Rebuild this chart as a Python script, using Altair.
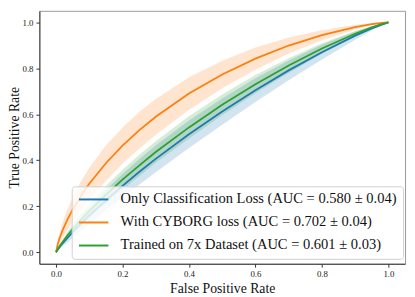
import altair as alt
import pandas as pd

fpr = [0, 0.005, 0.01, 0.02, 0.035, 0.05, 0.075, 0.1, 0.15, 0.2, 0.25, 0.3,
       0.4, 0.5, 0.6, 0.7, 0.8, 0.9, 0.95, 0.98, 1.0]

blue_tpr = [0, 0.011, 0.021, 0.039, 0.063, 0.087, 0.124, 0.160, 0.226, 0.289, 0.349,
            0.406, 0.513, 0.612, 0.705, 0.791, 0.870, 0.942, 0.973, 0.990, 1.0]
blue_std = [0, 0.004, 0.0075, 0.0125, 0.019, 0.024, 0.031, 0.036, 0.045, 0.051, 0.055,
            0.058, 0.060, 0.057, 0.052, 0.043, 0.032, 0.018, 0.009, 0.004, 0]

orange_tpr = [0, 0.034, 0.058, 0.096, 0.144, 0.185, 0.245, 0.298, 0.387, 0.464, 0.530,
              0.589, 0.690, 0.773, 0.842, 0.899, 0.944, 0.979, 0.992, 0.998, 1.0]
orange_std = [0, 0.015, 0.023, 0.034, 0.045, 0.053, 0.063, 0.069, 0.077, 0.079, 0.080,
              0.078, 0.071, 0.060, 0.048, 0.035, 0.022, 0.010, 0.005, 0.002, 0]

green_tpr = [0, 0.013, 0.025, 0.045, 0.074, 0.100, 0.141, 0.179, 0.250, 0.316, 0.377,
             0.436, 0.543, 0.641, 0.731, 0.812, 0.886, 0.950, 0.978, 0.992, 1.0]
green_std = [0, 0.004, 0.007, 0.011, 0.017, 0.021, 0.027, 0.031, 0.038, 0.043, 0.046,
             0.047, 0.048, 0.045, 0.040, 0.032, 0.023, 0.012, 0.006, 0.003, 0]

series_names = [
    "Only Classification Loss (AUC = 0.580 ± 0.04)",
    "With CYBORG loss (AUC = 0.702 ± 0.04)",
    "Trained on 7x Dataset (AUC = 0.601 ± 0.03)",
]
colors = ["#1f77b4", "#ff7f0e", "#2ca02c"]
ticks = [0.0, 0.2, 0.4, 0.6, 0.8, 1.0]

rows = []
for order, (name, tpr, std) in enumerate(zip(series_names,
                                             [blue_tpr, orange_tpr, green_tpr],
                                             [blue_std, orange_std, green_std])):
    for x, y, s in zip(fpr, tpr, std):
        rows.append({"series": name, "order": order, "fpr": x, "tpr": y,
                     "lo": max(y - s, 0.0), "hi": min(y + s, 1.0)})
df = pd.DataFrame(rows)

FONT = "Liberation Serif"
xscale = alt.Scale(domain=[-0.05, 1.05], nice=False, zero=False)
yscale = alt.Scale(domain=[-0.05, 1.05], nice=False, zero=False)
cscale = alt.Scale(domain=series_names, range=colors)

xaxis = alt.Axis(values=ticks, format=".1f", title="False Positive Rate", grid=False,
                 tickSize=3.5, labelPadding=3, titlePadding=3)
yaxis = alt.Axis(values=ticks, format=".1f", title="True Positive Rate", grid=False,
                 tickSize=3.5, labelPadding=3, titlePadding=1)

legend = alt.Legend(
    title=None, orient="none", legendX=33, legendY=179,
    symbolType="M-2.5,0H2.5", symbolSize=144, symbolStrokeWidth=2, symbolOpacity=1,
    symbolOffset=9,
    labelFont=FONT, labelFontSize=14.8, labelLimit=400, labelColor="#111",
    fillColor="rgba(255,255,255,0.8)", strokeColor="#d0d0d0",
    cornerRadius=3, padding=6, rowPadding=7.5, labelOffset=20,
)
color = alt.Color("series:N", scale=cscale, sort=series_names, legend=legend)

bands = alt.Chart(df).mark_area(opacity=0.2).encode(
    x=alt.X("fpr:Q", scale=xscale, axis=xaxis),
    y=alt.Y("lo:Q", scale=yscale, axis=yaxis),
    y2="hi:Q",
    color=color,
    detail="order:O",
)

lines = alt.Chart(df).mark_line(strokeWidth=1.8).encode(
    x=alt.X("fpr:Q", scale=xscale),
    y=alt.Y("tpr:Q", scale=yscale),
    color=color,
)

chart = (bands + lines).properties(
    width=373, height=258,
    padding={"left": 32, "top": 0, "right": 2, "bottom": 29},
    autosize="none",
).configure_view(stroke="#999", strokeWidth=1).configure_axis(
    labelFont=FONT, labelFontSize=9, labelColor="#222",
    titleFont=FONT, titleFontSize=14, titleFontWeight="normal", titleColor="#111",
    domainColor="#333", tickColor="#333", domainWidth=1, tickWidth=1,
)

chart.save("out.html", embed_options={"renderer": "svg", "actions": False})
